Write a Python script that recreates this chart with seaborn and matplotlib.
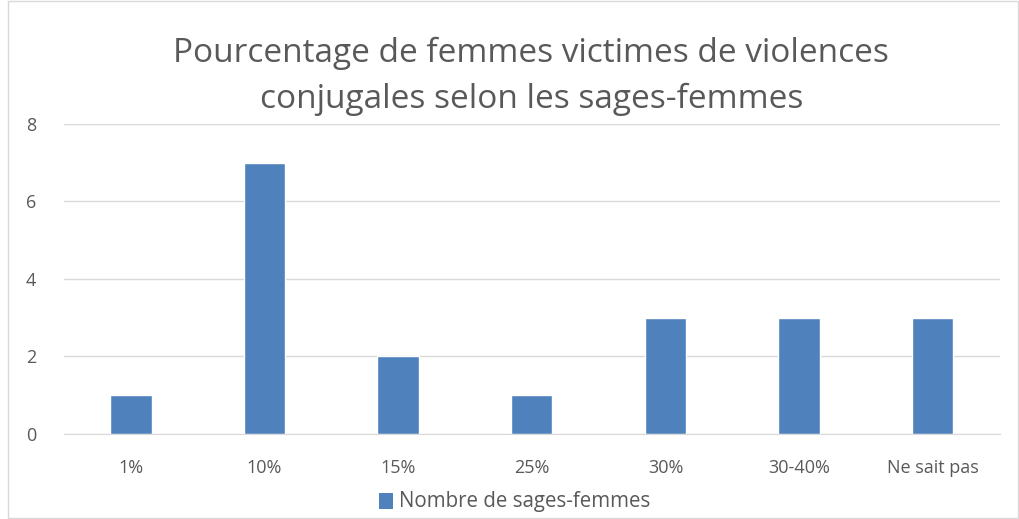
import matplotlib
matplotlib.use("Agg")
import matplotlib.pyplot as plt
import seaborn as sns
import pandas as pd
from matplotlib.patches import Rectangle

categories = ["1%", "10%", "15%", "25%", "30%", "30-40%", "Ne sait pas"]
counts = [1, 7, 2, 1, 3, 3, 3]
series_name = "Nombre de sages-femmes"
title = "Pourcentage de femmes victimes de violences\nconjugales selon les sages-femmes"

df = pd.DataFrame({"cat": categories, "n": counts})

sns.set_style("white")
plt.rcParams["font.family"] = ["Open Sans", "DejaVu Sans"]

fig = plt.figure(figsize=(10.2, 5.19), dpi=100)
ax = fig.add_axes([0.0627, 0.1638, 0.9173, 0.5973])

sns.barplot(data=df, x="cat", y="n", color="#4F81BD", width=0.31, saturation=1, ax=ax)

ax.set_ylim(0, 8)
ax.set_yticks([0, 2, 4, 6, 8])
ax.set_xlim(-0.5, len(categories) - 0.5)
ax.yaxis.grid(True, color="#D9D9D9", linewidth=1)
ax.set_axisbelow(True)
sns.despine(ax=ax, left=True)
ax.spines["bottom"].set_color("#D9D9D9")
ax.tick_params(axis="both", length=0, labelsize=13, colors="#595959")
ax.tick_params(axis="x", pad=18)
ax.tick_params(axis="y", pad=20)
ax.set_xlabel("")
ax.set_ylabel("")

fig.text(0.521, 0.853, title, ha="center", va="center", fontsize=24,
         color="#595959", linespacing=1.52)

# legend
fig.patches.append(Rectangle((379 / 1020, 10 / 519), 14 / 1020, 16 / 519,
                             transform=fig.transFigure,
                             facecolor="#4F81BD", edgecolor="none"))
fig.text(399 / 1020, 18 / 519, series_name, ha="left", va="center",
         fontsize=14.8, color="#595959")

# outer border
fig.patches.append(Rectangle((8 / 1020, 0.002), 1 - 10 / 1020, 0.996,
                             transform=fig.transFigure,
                             fill=False, edgecolor="#D9D9D9", linewidth=1))

fig.savefig("out.png", dpi=100)
